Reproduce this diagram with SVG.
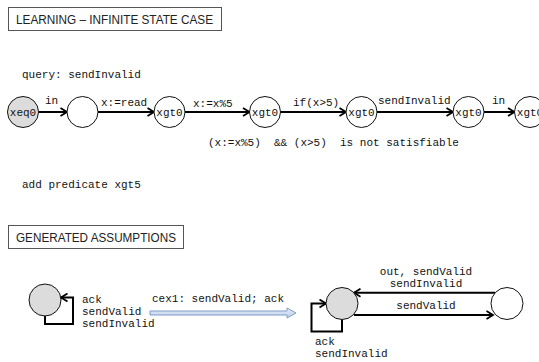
<svg xmlns="http://www.w3.org/2000/svg" width="539" height="362" viewBox="0 0 539 362">
  <style>
    .title { font-family: "Liberation Sans", Arial, sans-serif; font-size: 12px; fill: #222; }
    .tbox { fill: #fff; stroke: #555; stroke-width: 1; }
    .mono { font-family: "Liberation Mono", "Courier New", monospace; font-size: 11px; fill: #111; }
    .state { fill: #fff; stroke: #111; stroke-width: 1; }
    .init { fill: #dcdcdc; stroke: #111; stroke-width: 1; }
    .edge { fill: none; stroke: #000; stroke-width: 2; }
  </style>
  <defs>
    <marker id="head" markerUnits="userSpaceOnUse" markerWidth="10" markerHeight="10" refX="8" refY="5" orient="auto">
      <path d="M1.5,1 L8,5 L1.5,9" fill="none" stroke="#000" stroke-width="1.8"/>
    </marker>
    <linearGradient id="blueFill" x1="0" y1="0" x2="0" y2="1">
      <stop offset="0" stop-color="#e8eff9"/>
      <stop offset="1" stop-color="#b9cce6"/>
    </linearGradient>
  </defs>

  <!-- section headers -->
  <g id="header-learning">
    <rect class="tbox" x="8.5" y="7.5" width="213" height="23"/>
    <text class="title" x="16" y="23.5" textLength="197" lengthAdjust="spacingAndGlyphs">LEARNING – INFINITE STATE CASE</text>
  </g>
  <g id="header-assumptions">
    <rect class="tbox" x="8.5" y="225.5" width="175" height="23"/>
    <text class="title" x="16" y="241.5" textLength="160" lengthAdjust="spacingAndGlyphs">GENERATED ASSUMPTIONS</text>
  </g>

  <!-- free-standing notes -->
  <g id="notes" class="mono">
    <text x="22" y="78">query: sendInvalid</text>
    <text x="208" y="146" xml:space="preserve">(x:=x%5)  &amp;&amp; (x&gt;5)  is not satisfiable</text>
    <text x="22" y="188">add predicate xgt5</text>
  </g>

  <g id="connectors">
    <!-- counterexample trace -->
    <line class="edge" x1="38.5" y1="112" x2="67" y2="112" marker-end="url(#head)"/>
    <line class="edge" x1="98" y1="112" x2="154" y2="112" marker-end="url(#head)"/>
    <line class="edge" x1="185" y1="112" x2="249.5" y2="112" marker-end="url(#head)"/>
    <line class="edge" x1="280.5" y1="112" x2="346" y2="112" marker-end="url(#head)"/>
    <line class="edge" x1="377" y1="112" x2="453" y2="112" marker-end="url(#head)"/>
    <line class="edge" x1="484" y1="112" x2="514.5" y2="112" marker-end="url(#head)"/>
    <g class="mono">
      <text x="45" y="104">in</text>
      <text x="101" y="106">x:=read</text>
      <text x="193" y="107">x:=x%5</text>
      <text x="293" y="106">if(x&gt;5)</text>
      <text x="378" y="104">sendInvalid</text>
      <text x="492" y="104">in</text>
    </g>

    <!-- assumption automata -->
    <polyline class="edge" points="45,316 45,324 73,324 73,297.5 61,297.5" marker-end="url(#head)"/>
    <polyline class="edge" points="342,319.5 342,331.5 311.5,331.5 311.5,303.5 326,303.5" marker-end="url(#head)"/>
    <line class="edge" x1="495" y1="292.7" x2="354" y2="292.7" marker-end="url(#head)"/>
    <line class="edge" x1="354" y1="315" x2="493" y2="315" marker-end="url(#head)"/>
    <g class="mono">
      <text x="82" y="303">ack</text>
      <text x="82" y="315">sendValid</text>
      <text x="82" y="327">sendInvalid</text>
      <text x="315" y="345">ack</text>
      <text x="315" y="357">sendInvalid</text>
      <text x="426" y="275" text-anchor="middle">out, sendValid</text>
      <text x="426" y="287" text-anchor="middle">sendInvalid</text>
      <text x="426" y="309" text-anchor="middle">sendValid</text>
    </g>

    <!-- refinement step arrow -->
    <polygon points="150,311 287,311 287,308 296,313 287,318 287,315 150,315" fill="url(#blueFill)" stroke="#7e9cc9" stroke-width="1"/>
    <text class="mono" x="152" y="302">cex1: sendValid; ack</text>
  </g>

  <!-- trace states -->
  <g id="s0"><circle class="init" cx="23" cy="112" r="15.5"/><text class="mono" x="23" y="116" text-anchor="middle">xeq0</text></g>
  <g id="s1"><circle class="state" cx="82.5" cy="112" r="15.5"/></g>
  <g id="s2"><circle class="state" cx="169.5" cy="112" r="15.5"/><text class="mono" x="169.5" y="116" text-anchor="middle">xgt0</text></g>
  <g id="s3"><circle class="state" cx="265" cy="112" r="15.5"/><text class="mono" x="265" y="116" text-anchor="middle">xgt0</text></g>
  <g id="s4"><circle class="state" cx="361.5" cy="112" r="15.5"/><text class="mono" x="361.5" y="116" text-anchor="middle">xgt0</text></g>
  <g id="s5"><circle class="state" cx="468.5" cy="112" r="15.5"/><text class="mono" x="468.5" y="116" text-anchor="middle">xgt0</text></g>
  <g id="s6"><circle class="state" cx="530" cy="112" r="15.5"/><text class="mono" x="530" y="116" text-anchor="middle">xgt0</text></g>

  <!-- assumption states -->
  <g id="a0"><circle class="init" cx="45" cy="300" r="16"/></g>
  <g id="b0"><circle class="init" cx="342" cy="303.5" r="16"/></g>
  <g id="b1"><circle class="state" cx="507" cy="303.5" r="16"/></g>
</svg>
